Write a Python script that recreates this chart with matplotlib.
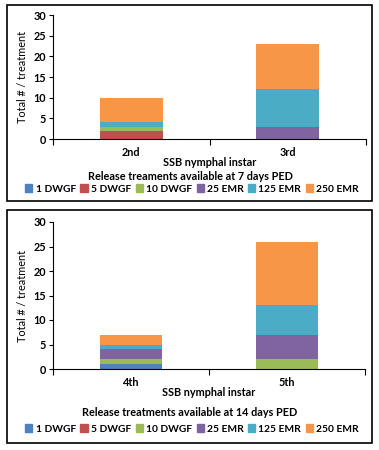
import matplotlib
matplotlib.use("Agg")
import matplotlib.pyplot as plt
from matplotlib.patches import Rectangle, Patch
import numpy as np

plt.rcParams['font.family'] = ['Lato', 'DejaVu Sans']
plt.rcParams['font.weight'] = 'bold'
plt.rcParams['font.size'] = 7.8

treatments = ["1 DWGF", "5 DWGF", "10 DWGF", "25 EMR", "125 EMR", "250 EMR"]
colors = ["#4F81BD", "#C0504D", "#9BBB59", "#8064A2", "#4BACC6", "#F79646"]

instars_7 = ["2nd", "3rd"]
vals_7 = [[0, 0], [2, 0], [1, 0], [0, 3], [1, 9], [6, 11]]
instars_14 = ["4th", "5th"]
vals_14 = [[1, 0], [0, 0], [1, 2], [2, 5], [1, 6], [2, 13]]

W, H = 379, 450
fig = plt.figure(figsize=(W / 100, H / 100), dpi=100)


def px(x0, y0, x1, y1):
    # pixel box (top-left origin) -> figure fraction rect
    return [x0 / W, 1 - y1 / H, (x1 - x0) / W, (y1 - y0) / H]


def panel(box, axbox, cats, vals, title, xlab_y, title_y, leg_y):
    r = Rectangle((box[0] / W, 1 - box[3] / H), (box[2] - box[0]) / W,
                  (box[3] - box[1]) / H, transform=fig.transFigure,
                  fill=False, edgecolor='black', linewidth=1.2)
    fig.add_artist(r)
    ax = fig.add_axes(px(*axbox))
    x = np.arange(len(cats))
    bottom = np.zeros(len(cats))
    for v, c, lab in zip(vals, colors, treatments):
        ax.bar(x, v, 0.4, bottom=bottom, color=c, label=lab)
        bottom += np.array(v)
    ax.set_xlim(-0.5, 1.5)
    ax.set_ylim(0, 30)
    ax.set_yticks(range(0, 31, 5))
    ax.set_xticks([-0.5, 0.5, 1.5])
    ax.set_xticklabels([])
    ax.set_xticks(x, minor=True)
    ax.set_xticklabels(cats, minor=True)
    ax.tick_params(axis='x', which='minor', length=0, pad=6)
    ax.tick_params(axis='x', which='major', length=4, direction='out')
    ax.tick_params(axis='y', length=3, pad=2)
    for s in ['top', 'right']:
        ax.spines[s].set_visible(False)
    ax.set_ylabel("Total # / treatment", labelpad=4)
    fig.text(0.5 * (axbox[0] + axbox[2]) / W, 1 - xlab_y / H, "SSB nymphal instar",
             ha='center', va='center')
    fig.text(190 / W, 1 - title_y / H, title, ha='center', va='center')
    handles = [Patch(color=c) for c in colors]
    fig.legend(handles, treatments, loc='center', bbox_to_anchor=(192 / W, 1 - leg_y / H),
               ncol=6, frameon=False, handlelength=0.7, handleheight=0.7,
               handletextpad=0.3, columnspacing=0.45, fontsize=7.4)


panel((7, 5, 372, 201), (53, 15, 366, 139), instars_7,
      vals_7, "Release treaments available at 7 days PED", 163, 176, 189)
panel((7, 210, 372, 443), (53, 222, 365, 369), instars_14,
      vals_14, "Release treatments available at 14 days PED", 393, 412, 429)

fig.savefig("out.png", dpi=100)
